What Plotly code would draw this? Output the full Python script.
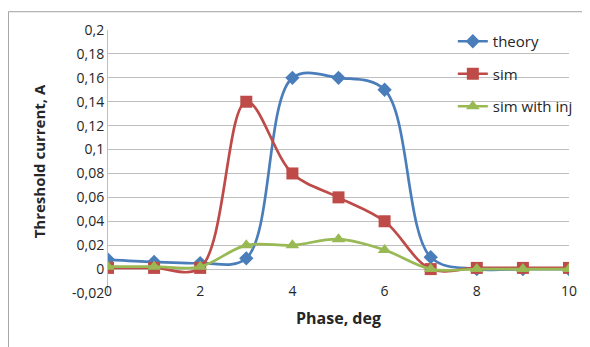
import plotly.graph_objects as go

phase = [0, 1, 2, 3, 4, 5, 6, 7, 8, 9, 10]
theory = [0.008, 0.006, 0.005, 0.009, 0.16, 0.16, 0.15, 0.01, 0.0, 0.0, 0.0]
sim = [0.001, 0.001, 0.001, 0.14, 0.08, 0.06, 0.04, 0.0, 0.001, 0.001, 0.001]
sim_inj = [0.002, 0.002, 0.002, 0.02, 0.02, 0.025, 0.016, 0.0, 0.0, 0.0, 0.0]

y_tickvals = [-0.02, 0, 0.02, 0.04, 0.06, 0.08, 0.1, 0.12, 0.14, 0.16, 0.18, 0.2]
y_ticktext = ["-0,02", "0", "0,02", "0,04", "0,06", "0,08", "0,1", "0,12", "0,14", "0,16", "0,18", "0,2"]
x_tickvals = [0, 2, 4, 6, 8, 10]

FONT = "Open Sans"

series = [
    ("theory", theory, "#4a7ebb", "diamond", 11),
    ("sim", sim, "#be4b48", "square", 12),
    ("sim with inj", sim_inj, "#98b954", "triangle-up", 12),
]

fig = go.Figure()
for name, vals, col, sym, sz in series:
    fig.add_trace(go.Scatter(
        x=phase, y=vals, name=name, mode="lines+markers",
        line=dict(color=col, width=2.7, shape="spline", smoothing=1.0),
        marker=dict(symbol=sym, size=sz, color=col),
        legendgroup=name,
    ))

fig.update_layout(
    width=582, height=339,
    margin=dict(l=100, r=21, t=19, b=54),
    paper_bgcolor="white", plot_bgcolor="white",
    font=dict(family=FONT, size=14, color="#262626"),
    showlegend=True,
    legend=dict(x=0.748, y=1.019, xanchor="left", yanchor="top",
                bgcolor="rgba(0,0,0,0)", font=dict(size=15),
                traceorder="grouped", tracegroupgap=10, itemwidth=30),
    xaxis=dict(range=[0, 10], tickvals=x_tickvals, showgrid=False,
               zeroline=False, showline=False, ticks="",
               ticklabelstandoff=-12,
               title=dict(text="<b>Phase, deg</b>", font=dict(size=16), standoff=13)),
    yaxis=dict(range=[-0.02, 0.2], tickvals=y_tickvals, ticktext=y_ticktext,
               showgrid=True, gridcolor="#bfbfbf", gridwidth=1,
               zeroline=False, showline=True, linecolor="#bfbfbf", linewidth=1,
               ticks="",
               title=dict(text="<b>Threshold current, A</b>", font=dict(size=15), standoff=22)),
    shapes=[dict(type="rect", xref="paper", yref="paper",
                 x0=-0.216, x1=1.2, y0=-0.4, y1=1.0695,
                 line=dict(color="#a0a0a0", width=1), layer="below")],
)

fig.write_html("out.html")
